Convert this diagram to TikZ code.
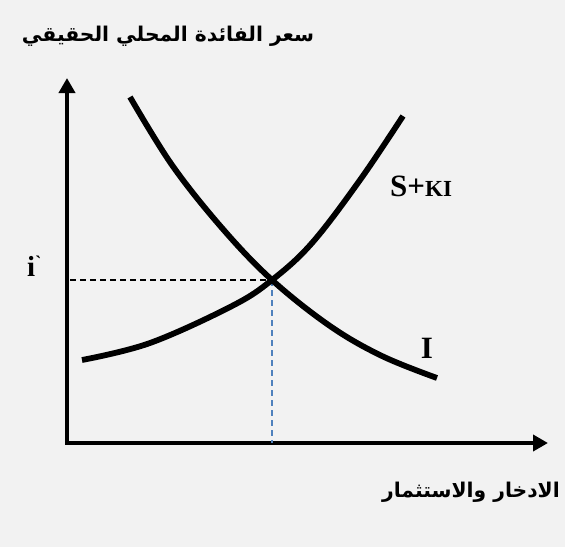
\documentclass[tikz,border=0pt]{standalone}
\usepackage{fontspec}
\setmainfont{Liberation Serif}
\newfontfamily\arabicfont[Script=Arabic]{DejaVu Sans}
\TeXXeTstate=1
\usetikzlibrary{arrows.meta}
\definecolor{bg}{HTML}{F2F2F2}
\definecolor{dashblue}{HTML}{4F81BD}
\tikzset{
  axis/.style={line width=4pt,-{Triangle[length=15pt,width=16pt]}},
  curve/.style={line width=5.8pt},
  guide/.style={line width=1.3pt,dash pattern=on 6pt off 4pt},
  lbl/.style={font=\bfseries\fontsize{31}{33}\selectfont,inner sep=0pt},
  artxt/.style={font=\arabicfont\bfseries\fontsize{20.3}{24}\selectfont,inner sep=0pt}
}
\begin{document}
\begin{tikzpicture}[x=1pt,y=-1pt]
\fill[bg] (0,0) rectangle (565,547);
\useasboundingbox (0,0) rectangle (565,547);
\coordinate (O) at (67,443);
\coordinate (ytop) at (67,78);
\coordinate (xend) at (548,443);
\coordinate (E) at (272,280);
\coordinate (Ey) at (70,280);
\coordinate (Ex) at (272,443);
\draw[axis] ([yshift=2pt]O) -- (ytop);
\draw[axis] ([xshift=-2pt]O) -- (xend);
\draw[guide,black] (Ey) -- (E);
\draw[guide,dashblue] (E) -- (Ex);
\draw[curve] plot[smooth,tension=0.6] coordinates {(130,97) (172,165) (222,228) (272,280) (330,326) (382,356) (437,378)};
\draw[curve] plot[smooth,tension=0.6] coordinates {(82,360) (150,343) (232,306) (272,280) (312,243) (360,180) (403,116)};
\node[lbl,anchor=base west] (ilbl) at (27,276) {\fontsize{29}{30}\selectfont i\raisebox{8pt}{\fontsize{18}{18}\selectfont\textasciigrave}};
\node[lbl,anchor=base west] (slbl) at (390,196) {S+\fontsize{23}{24}\selectfont KI};
\node[lbl,anchor=base] (Ilbl) at (427,358) {I};
\node[artxt] (ylab) at (168,36) {\beginR سعر الفائدة المحلي الحقيقي\endR};
\node[artxt] (xlab) at (471,492) {\beginR الادخار والاستثمار\endR};
\end{tikzpicture}
\end{document}
